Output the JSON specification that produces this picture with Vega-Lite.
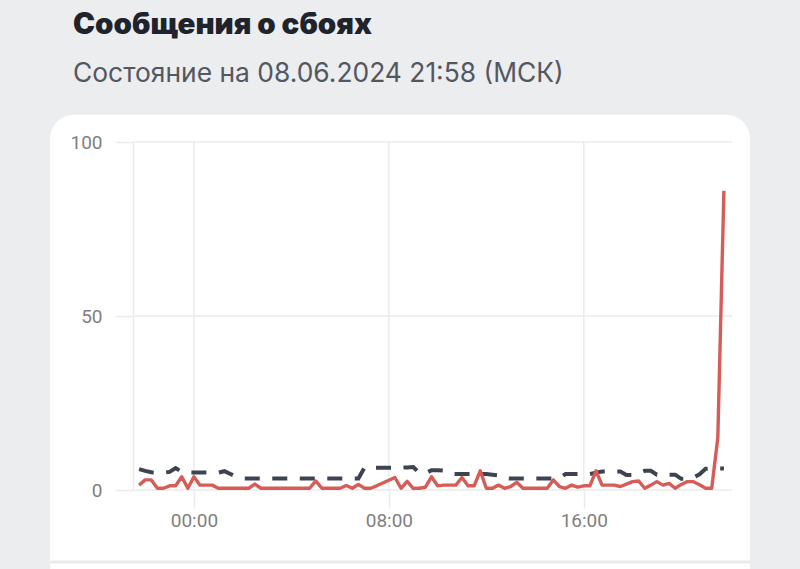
{
  "$schema": "https://vega.github.io/schema/vega-lite/v6.json",
  "width": 597,
  "height": 348,
  "autosize": {"type": "none"},
  "padding": {"left": 133, "top": 142, "right": 70, "bottom": 79},
  "background": "#ecedef",
  "config": {
    "view": {"stroke": null},
    "font": "Roboto",
    "axis": {"grid": false, "tickColor": "#ebebeb", "domainColor": "#ebebeb", "tickWidth": 1.5, "domainWidth": 1.5, "labelColor": "#7f7f7f", "labelFont": "Roboto", "labelFontSize": 19, "tickSize": 18},
    "axisX": {"domain": false, "labelPadding": 3},
    "axisY": {"domain": true, "labelPadding": 13}
  },
  "title": {
    "text": "Сообщения о сбоях",
    "subtitle": "Состояние на 08.06.2024 21:58 (МСК)",
    "anchor": "start",
    "frame": "group",
    "dx": -60,
    "offset": 26,
    "font": "Inter",
    "fontSize": 29.5,
    "fontWeight": 900,
    "color": "#1f232b",
    "subtitleFont": "Inter",
    "subtitleFontSize": 26.4,
    "subtitleFontWeight": 400,
    "subtitleColor": "#53575f",
    "subtitlePadding": 21
  },
  "datasets": {
    "reports": [
      {"t": "2024-06-07T21:45", "r": 1.4, "b": 6},
      {"t": "2024-06-07T22:00", "r": 2.9, "b": 5.5},
      {"t": "2024-06-07T22:15", "r": 2.9, "b": 5.1},
      {"t": "2024-06-07T22:30", "r": 0.5, "b": 5},
      {"t": "2024-06-07T22:45", "r": 0.5, "b": 5},
      {"t": "2024-06-07T23:00", "r": 1.2, "b": 5.2},
      {"t": "2024-06-07T23:15", "r": 1.2, "b": 6.3},
      {"t": "2024-06-07T23:30", "r": 3.8, "b": 5.2},
      {"t": "2024-06-07T23:45", "r": 0.5, "b": 5},
      {"t": "2024-06-08T00:00", "r": 3.8, "b": 5},
      {"t": "2024-06-08T00:15", "r": 1.4, "b": 5},
      {"t": "2024-06-08T00:30", "r": 1.4, "b": 5},
      {"t": "2024-06-08T00:45", "r": 1.4, "b": 5},
      {"t": "2024-06-08T01:00", "r": 0.5, "b": 5},
      {"t": "2024-06-08T01:15", "r": 0.5, "b": 5.4},
      {"t": "2024-06-08T01:30", "r": 0.5, "b": 4.6},
      {"t": "2024-06-08T01:45", "r": 0.5, "b": 3.8},
      {"t": "2024-06-08T02:00", "r": 0.5, "b": 3.3},
      {"t": "2024-06-08T02:15", "r": 0.5, "b": 3.3},
      {"t": "2024-06-08T02:30", "r": 1.7, "b": 3.3},
      {"t": "2024-06-08T02:45", "r": 0.5, "b": 3.3},
      {"t": "2024-06-08T03:00", "r": 0.5, "b": 3.3},
      {"t": "2024-06-08T03:15", "r": 0.5, "b": 3.3},
      {"t": "2024-06-08T03:30", "r": 0.5, "b": 3.3},
      {"t": "2024-06-08T03:45", "r": 0.5, "b": 3.3},
      {"t": "2024-06-08T04:00", "r": 0.5, "b": 3.3},
      {"t": "2024-06-08T04:15", "r": 0.5, "b": 3.3},
      {"t": "2024-06-08T04:30", "r": 0.5, "b": 3.3},
      {"t": "2024-06-08T04:45", "r": 0.5, "b": 3.3},
      {"t": "2024-06-08T05:00", "r": 2.6, "b": 3.3},
      {"t": "2024-06-08T05:15", "r": 0.5, "b": 3.3},
      {"t": "2024-06-08T05:30", "r": 0.5, "b": 3.3},
      {"t": "2024-06-08T05:45", "r": 0.5, "b": 3.3},
      {"t": "2024-06-08T06:00", "r": 0.5, "b": 3.3},
      {"t": "2024-06-08T06:15", "r": 1.3, "b": 3.3},
      {"t": "2024-06-08T06:30", "r": 0.5, "b": 3.3},
      {"t": "2024-06-08T06:45", "r": 1.6, "b": 3.3},
      {"t": "2024-06-08T07:00", "r": 0.5, "b": 6.4},
      {"t": "2024-06-08T07:15", "r": 0.5, "b": 6.4},
      {"t": "2024-06-08T07:30", "r": 1.2, "b": 6.4},
      {"t": "2024-06-08T07:45", "r": 2.0, "b": 6.4},
      {"t": "2024-06-08T08:00", "r": 2.8, "b": 6.4},
      {"t": "2024-06-08T08:15", "r": 3.6, "b": 6.4},
      {"t": "2024-06-08T08:30", "r": 0.5, "b": 6.4},
      {"t": "2024-06-08T08:45", "r": 2.5, "b": 6.5},
      {"t": "2024-06-08T09:00", "r": 0.5, "b": 6.6},
      {"t": "2024-06-08T09:15", "r": 0.5, "b": 4.9},
      {"t": "2024-06-08T09:30", "r": 0.8, "b": 4.8},
      {"t": "2024-06-08T09:45", "r": 3.8, "b": 5.7},
      {"t": "2024-06-08T10:00", "r": 1.2, "b": 5.7},
      {"t": "2024-06-08T10:15", "r": 1.4, "b": 5.6},
      {"t": "2024-06-08T10:30", "r": 1.4, "b": 4.7},
      {"t": "2024-06-08T10:45", "r": 1.4, "b": 4.6},
      {"t": "2024-06-08T11:00", "r": 3.6, "b": 4.6},
      {"t": "2024-06-08T11:15", "r": 1.2, "b": 4.6},
      {"t": "2024-06-08T11:30", "r": 1.2, "b": 4.6},
      {"t": "2024-06-08T11:45", "r": 5.5, "b": 4.6},
      {"t": "2024-06-08T12:00", "r": 0.5, "b": 4.6},
      {"t": "2024-06-08T12:15", "r": 0.5, "b": 4.4},
      {"t": "2024-06-08T12:30", "r": 1.4, "b": 4.2},
      {"t": "2024-06-08T12:45", "r": 0.5, "b": 3.4},
      {"t": "2024-06-08T13:00", "r": 1.0, "b": 3.3},
      {"t": "2024-06-08T13:15", "r": 2.2, "b": 3.3},
      {"t": "2024-06-08T13:30", "r": 0.5, "b": 3.3},
      {"t": "2024-06-08T13:45", "r": 0.5, "b": 3.3},
      {"t": "2024-06-08T14:00", "r": 0.5, "b": 3.3},
      {"t": "2024-06-08T14:15", "r": 0.5, "b": 3.3},
      {"t": "2024-06-08T14:30", "r": 0.5, "b": 3.3},
      {"t": "2024-06-08T14:45", "r": 2.9, "b": 3.3},
      {"t": "2024-06-08T15:00", "r": 1.0, "b": 3.4},
      {"t": "2024-06-08T15:15", "r": 0.5, "b": 4.6},
      {"t": "2024-06-08T15:30", "r": 1.4, "b": 4.6},
      {"t": "2024-06-08T15:45", "r": 0.8, "b": 4.6},
      {"t": "2024-06-08T16:00", "r": 1.2, "b": 4.6},
      {"t": "2024-06-08T16:15", "r": 1.2, "b": 4.6},
      {"t": "2024-06-08T16:30", "r": 5.5, "b": 5.0},
      {"t": "2024-06-08T16:45", "r": 1.4, "b": 5.3},
      {"t": "2024-06-08T17:00", "r": 1.4, "b": 5.3},
      {"t": "2024-06-08T17:15", "r": 1.4, "b": 5.3},
      {"t": "2024-06-08T17:30", "r": 1.0, "b": 5.3},
      {"t": "2024-06-08T17:45", "r": 1.7, "b": 4.3},
      {"t": "2024-06-08T18:00", "r": 2.4, "b": 4.3},
      {"t": "2024-06-08T18:15", "r": 2.6, "b": 4.9},
      {"t": "2024-06-08T18:30", "r": 0.5, "b": 5.5},
      {"t": "2024-06-08T18:45", "r": 1.4, "b": 5.5},
      {"t": "2024-06-08T19:00", "r": 2.4, "b": 4.4},
      {"t": "2024-06-08T19:15", "r": 1.4, "b": 4.4},
      {"t": "2024-06-08T19:30", "r": 1.9, "b": 4.4},
      {"t": "2024-06-08T19:45", "r": 0.5, "b": 4.4},
      {"t": "2024-06-08T20:00", "r": 1.6, "b": 3.2},
      {"t": "2024-06-08T20:15", "r": 2.4, "b": 3.2},
      {"t": "2024-06-08T20:30", "r": 2.4, "b": 3.6},
      {"t": "2024-06-08T20:45", "r": 1.5, "b": 4.5},
      {"t": "2024-06-08T21:00", "r": 0.5, "b": 6.1},
      {"t": "2024-06-08T21:15", "r": 0.5, "b": 6.2},
      {"t": "2024-06-08T21:30", "r": 15, "b": 6.2},
      {"t": "2024-06-08T21:45", "r": 86, "b": 6.2}
    ]
  },
  "layer": [
    {
      "data": {"values": [{}]},
      "mark": {"type": "rect", "color": "#ffffff", "cornerRadius": 24},
      "encoding": {
        "x": {"datum": {"year": 2024, "month": 6, "date": 7, "hours": 18, "minutes": 6}, "type": "temporal",
              "scale": {"domain": [{"year": 2024, "month": 6, "date": 7, "hours": 21, "minutes": 30}, {"year": 2024, "month": 6, "date": 8, "hours": 22, "minutes": 0}], "nice": false},
              "axis": {"values": [{"year": 2024, "month": 6, "date": 8, "hours": 0}, {"year": 2024, "month": 6, "date": 8, "hours": 8}, {"year": 2024, "month": 6, "date": 8, "hours": 16}], "format": "%H:%M", "title": null, "zindex": 1}},
        "x2": {"datum": {"year": 2024, "month": 6, "date": 8, "hours": 22, "minutes": 49}},
        "y": {"datum": 107.8, "type": "quantitative", "scale": {"domain": [0, 100], "nice": false},
              "axis": {"values": [0, 50, 100], "title": null, "zindex": 1}},
        "y2": {"datum": -32}
      }
    },
    {
      "data": {"values": [{"g": 0}, {"g": 50}, {"g": 100}]},
      "mark": {"type": "rule", "color": "#ebebeb", "strokeWidth": 1.5},
      "encoding": {
        "x": {"datum": {"year": 2024, "month": 6, "date": 7, "hours": 21, "minutes": 30}, "type": "temporal"},
        "x2": {"datum": {"year": 2024, "month": 6, "date": 8, "hours": 22, "minutes": 5}},
        "y": {"field": "g", "type": "quantitative"}
      }
    },
    {
      "data": {"values": [{"h": "2024-06-08T00:00"}, {"h": "2024-06-08T08:00"}, {"h": "2024-06-08T16:00"}]},
      "mark": {"type": "rule", "color": "#ebebeb", "strokeWidth": 1.5},
      "encoding": {
        "x": {"field": "h", "type": "temporal"},
        "y": {"datum": 0, "type": "quantitative"},
        "y2": {"datum": 100}
      }
    },
    {
      "data": {"values": [{}]},
      "mark": {"type": "rule", "color": "#e8e9eb", "strokeWidth": 3},
      "encoding": {
        "x": {"datum": {"year": 2024, "month": 6, "date": 7, "hours": 18, "minutes": 6}, "type": "temporal"},
        "x2": {"datum": {"year": 2024, "month": 6, "date": 8, "hours": 22, "minutes": 49}},
        "y": {"datum": -20.7, "type": "quantitative"}
      }
    },
    {
      "data": {"name": "reports"},
      "mark": {"type": "line", "color": "#3d4350", "strokeWidth": 4, "strokeDash": [15, 12.5], "strokeCap": "butt"},
      "encoding": {
        "x": {"field": "t", "type": "temporal"},
        "y": {"field": "b", "type": "quantitative"}
      }
    },
    {
      "data": {"name": "reports"},
      "mark": {"type": "line", "color": "#d65d57", "strokeWidth": 3.4, "strokeJoin": "round"},
      "encoding": {
        "x": {"field": "t", "type": "temporal"},
        "y": {"field": "r", "type": "quantitative"}
      }
    }
  ]
}
